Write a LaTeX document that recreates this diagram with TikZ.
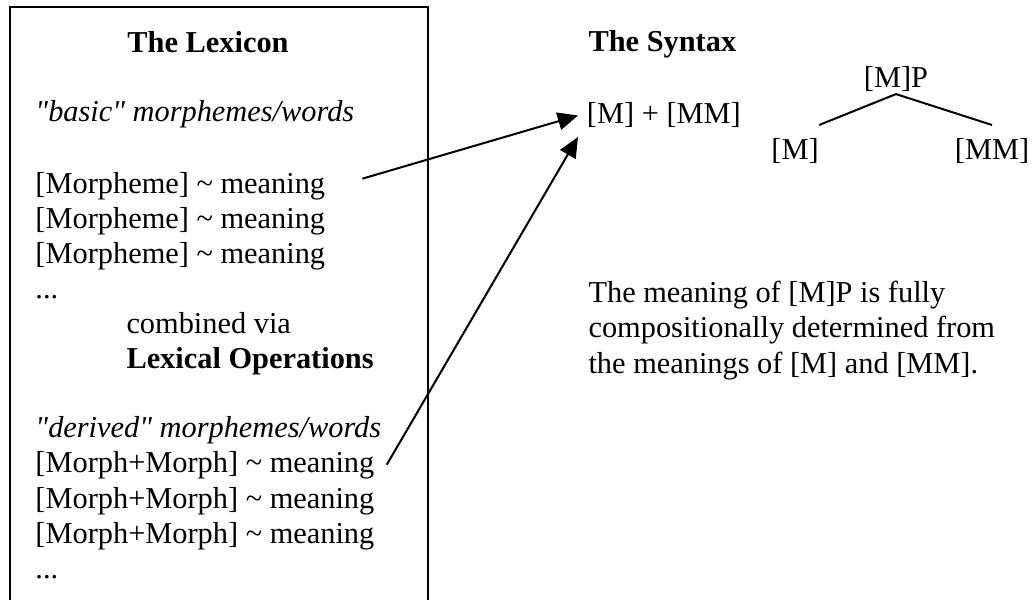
\documentclass[tikz,border=0pt]{standalone}
\usepackage{fontspec}
\setmainfont{Liberation Serif}
\usetikzlibrary{arrows.meta,positioning}

\begin{document}
\begin{tikzpicture}[font=\fontsize{12}{14}\selectfont,
    lexline/.style={anchor=base west, inner sep=0pt},
    link/.style={-{Triangle[length=8pt,width=7pt]}, line width=0.8pt},
    leaf/.style={anchor=base, inner xsep=0pt, inner ysep=5.3pt}]
    \useasboundingbox (0,0) rectangle (14.333,-8.333);

    % Lexicon box
    \draw[line width=0.8pt] (0.139,-8.333) |- (5.944,-0.097) -- (5.944,-8.333);
    \node[anchor=base, inner sep=0pt] (lextitle) at (2.889,-0.736) {\textbf{The Lexicon}};
    \node[lexline] (basic) at (0.486,-1.694) {\textit{\textquotedbl basic\textquotedbl{} morphemes/words}};
    \node[lexline] (m1) at (0.486,-2.681) {[Morpheme] \textasciitilde{} meaning};
    \node[lexline] (m2) at (0.486,-3.167) {[Morpheme] \textasciitilde{} meaning};
    \node[lexline] (m3) at (0.486,-3.653) {[Morpheme] \textasciitilde{} meaning};
    \node[lexline] (mdots) at (0.486,-4.139) {...};
    \node[lexline] (via) at (1.75,-4.625) {combined via};
    \node[lexline] (lexop) at (1.75,-5.111) {\textbf{Lexical Operations}};
    \node[lexline] (derived) at (0.486,-6.083) {\textit{\textquotedbl derived\textquotedbl{} morphemes/words}};
    \node[lexline] (mm1) at (0.486,-6.569) {[Morph+Morph] \textasciitilde{} meaning};
    \node[lexline] (mm2) at (0.486,-7.056) {[Morph+Morph] \textasciitilde{} meaning};
    \node[lexline] (mm3) at (0.486,-7.542) {[Morph+Morph] \textasciitilde{} meaning};
    \node[lexline] (mmdots) at (0.486,-8.028) {...};

    % Syntax
    \node[lexline] (syntitle) at (8.167,-0.722) {\textbf{The Syntax}};
    \node[anchor=base west] (syn) at (8.028,-1.722) {[M] + [MM]};

    % Tree
    \node[anchor=base, inner sep=0.6pt] (mp) at (12.444,-1.222) {[M]P};
    \node[leaf] (ml) at (11.042,-2.222) {[M]};
    \node[leaf] (mr) at (13.778,-2.222) {[MM]};
    \draw[line width=0.8pt] (mp.south) -- (ml.north east);
    \draw[line width=0.8pt] (mp.south) -- (mr.north);

    % Meaning
    \node[lexline] (p1) at (8.167,-4.208) {The meaning of [M]P is fully};
    \node[lexline] (p2) at (8.167,-4.694) {compositionally determined from};
    \node[lexline] (p3) at (8.167,-5.181) {the meanings of [M] and [MM].};

    % Arrows
    \draw[link] ([xshift=14.5pt,yshift=2.8pt]m1.east) -- (syn.west);
    \draw[link] ([xshift=4.7pt,yshift=0.4pt]mm1.east) -- (syn.south west);
\end{tikzpicture}
\end{document}
